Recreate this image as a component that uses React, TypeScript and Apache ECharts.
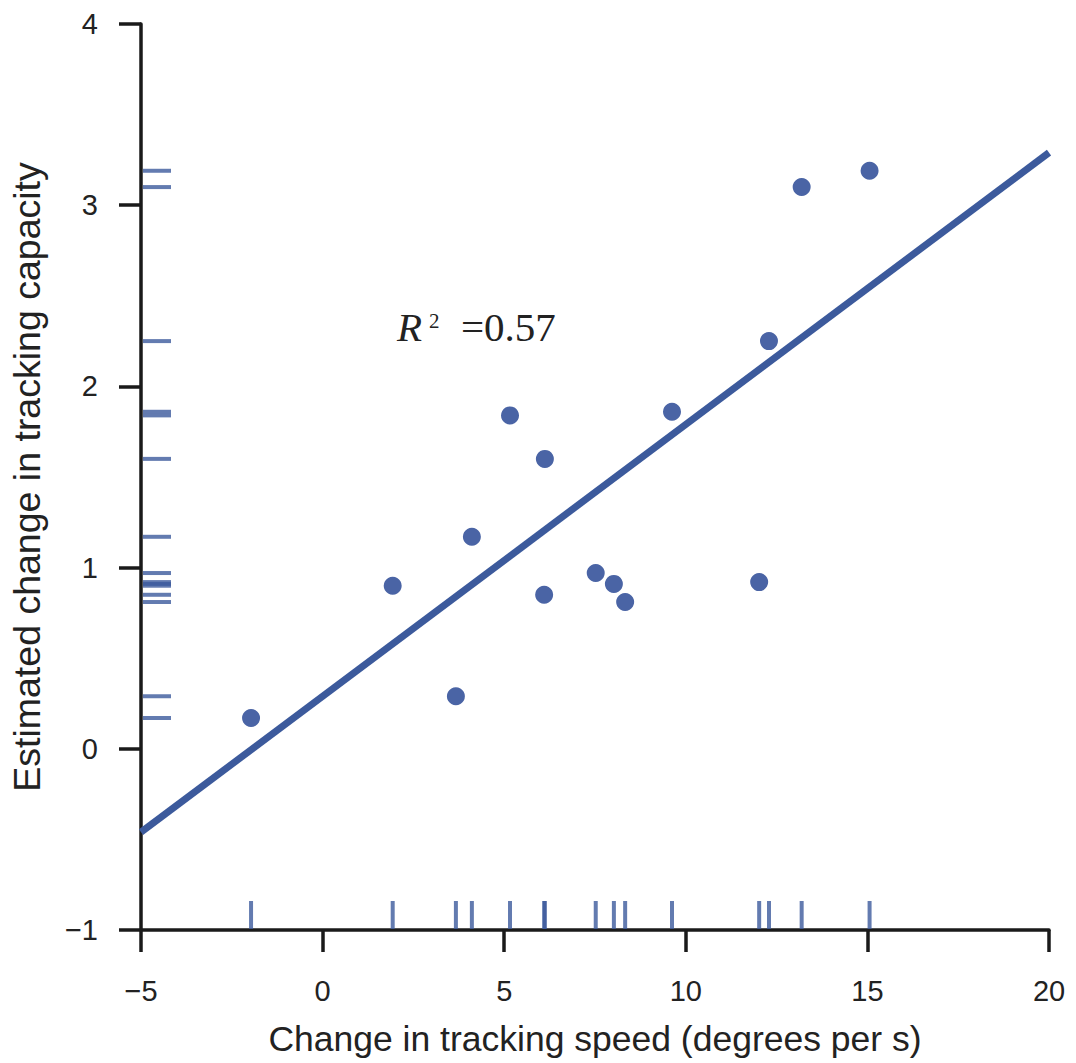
import React, { useEffect, useRef } from "react";
import * as echarts from "echarts";

const speedChange = [-1.97, 1.93, 3.67, 4.11, 5.16, 6.12, 6.1, 7.52, 8.02, 8.33, 9.62, 12.02, 12.29, 13.19, 15.06];
const capacityChange = [0.17, 0.9, 0.29, 1.17, 1.84, 1.6, 0.85, 0.97, 0.91, 0.81, 1.86, 0.92, 2.25, 3.1, 3.19];
const fitX = [-5, 20];
const fitY = [-0.46, 3.29];
const xTicks = { min: -5, max: 20, interval: 5 };
const yTicks = { min: -1, max: 4, interval: 1 };
const xLabel = "Change in tracking speed (degrees per s)";
const yLabel = "Estimated change in tracking capacity";
const r2Value = "=0.57";

const DOT = "#4a64a5";
const LINE = "#3c5a9c";
const AXIS = "#1a1a1a";
const SANS = "'Liberation Sans', Arial, sans-serif";
const SERIF = "'Liberation Serif', 'DejaVu Serif', serif";

export default function App() {
  const ref = useRef<HTMLDivElement>(null);
  useEffect(() => {
    if (!ref.current) return;
    const chart = echarts.init(ref.current, null, { renderer: "svg" });
    const points = speedChange.map((x, i) => [x, capacityChange[i]]);
    const fmt = (v: number) => String(v).replace("-", "\u2212");
    chart.setOption({
      animation: false,
      backgroundColor: "#ffffff",
      grid: { left: 141, right: 27, top: 24, bottom: 133, containLabel: false },
      xAxis: {
        type: "value",
        min: xTicks.min,
        max: xTicks.max,
        interval: xTicks.interval,
        name: xLabel,
        nameLocation: "middle",
        nameGap: 91,
        nameTextStyle: { fontFamily: SANS, fontSize: 35.5, color: "#222" },
        axisLine: { show: true, onZero: false, lineStyle: { color: AXIS, width: 3.5 } },
        axisTick: { show: true, inside: false, length: 22, lineStyle: { color: AXIS, width: 3.5 } },
        axisLabel: { margin: 46, fontFamily: SANS, fontSize: 29, color: "#222", formatter: fmt },
        splitLine: { show: false },
      },
      yAxis: {
        type: "value",
        min: yTicks.min,
        max: yTicks.max,
        interval: yTicks.interval,
        name: yLabel,
        nameLocation: "middle",
        nameGap: 95,
        nameTextStyle: { fontFamily: SANS, fontSize: 37.5, color: "#222" },
        axisLine: { show: true, onZero: false, lineStyle: { color: AXIS, width: 3.5 } },
        axisTick: { show: true, inside: false, length: 22, lineStyle: { color: AXIS, width: 3.5 } },
        axisLabel: { margin: 43, fontFamily: SANS, fontSize: 29, color: "#222", formatter: fmt },
        splitLine: { show: false },
      },
      series: [
        {
          type: "line",
          data: fitX.map((x, i) => [x, fitY[i]]),
          showSymbol: false,
          symbol: "none",
          lineStyle: { color: LINE, width: 7 },
          silent: true,
          z: 2,
        },
        {
          type: "scatter",
          data: points,
          symbol: "circle",
          symbolSize: 18,
          itemStyle: { color: DOT, opacity: 1 },
          silent: true,
          z: 3,
        },
        {
          type: "scatter",
          data: speedChange.map((x) => [x, yTicks.min]),
          symbol: "rect",
          symbolSize: [4, 28],
          symbolOffset: [0, -15],
          itemStyle: { color: LINE },
          clip: false,
          silent: true,
          z: 1,
        },
        {
          type: "scatter",
          data: capacityChange.map((y) => [xTicks.min, y]),
          symbol: "rect",
          symbolSize: [28, 4],
          symbolOffset: [16, 0],
          itemStyle: { color: LINE },
          clip: false,
          silent: true,
          z: 1,
        },
      ],
      graphic: [
        {
          type: "text",
          x: 397,
          y: 327,
          style: { text: "R", font: `italic 41px ${SERIF}`, fill: "#222", verticalAlign: "middle" },
        },
        {
          type: "text",
          x: 429,
          y: 310,
          style: { text: "2", font: `21px ${SERIF}`, fill: "#222", verticalAlign: "top" },
        },
        {
          type: "text",
          x: 461,
          y: 327,
          style: { text: r2Value, font: `41px ${SERIF}`, fill: "#222", verticalAlign: "middle" },
        },
      ],
    });
    return () => chart.dispose();
  }, []);
  return (
    <div
      ref={ref}
      style={{ position: "absolute", left: 0, top: 0, width: 1076, height: 1063 }}
    />
  );
}
